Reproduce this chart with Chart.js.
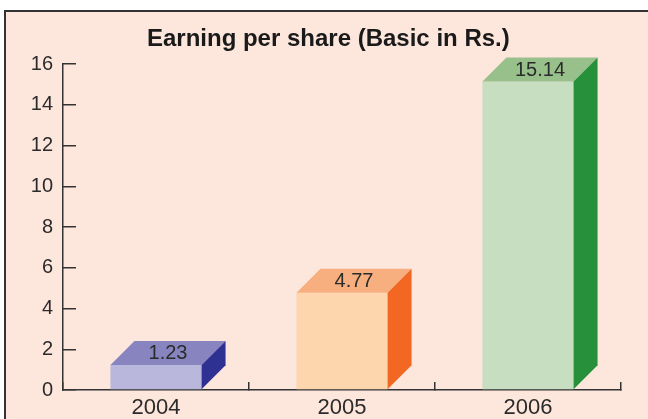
<!DOCTYPE html>
<html>
<head>
<meta charset="utf-8">
<script src="https://cdn.jsdelivr.net/npm/chart.js@4/dist/chart.umd.min.js"></script>
<style>
  body { margin: 0; background: #fff; width: 648px; height: 419px; overflow: hidden; position: relative; }
  #frame { position: absolute; left: 4px; top: 10px; width: 700px; height: 500px;
           border: 2px solid #333; background: #FDE6DC; }
  #epsChart { position: absolute; left: 0; top: 0; }
</style>
</head>
<body>
<div id="frame"></div>
<canvas id="epsChart" width="648" height="419"></canvas>
<script>
// ---------- DATA ----------
const years = ["2004", "2005", "2006"];
const eps = [1.23, 4.77, 15.14];
const yTicks = [0, 2, 4, 6, 8, 10, 12, 14, 16];

// face colours: front / top / side
const frontColors = ["#B9B7DC", "#FDD6AE", "#C7DEC0"];
const topColors = ["#8884C0", "#F8AF7F", "#97C08A"];
const sideColors = ["#2E3192", "#F26722", "#26913A"];

const DEPTH = 24;

// draws the top and side faces plus the value on the top face
const cube3d = {
  id: "cube3d",
  afterDatasetsDraw(chart) {
    const ctx = chart.ctx;
    const meta = chart.getDatasetMeta(0);
    ctx.save();
    meta.data.forEach((bar, i) => {
      const { x, y, base, width } = bar.getProps(["x", "y", "base", "width"], true);
      const l = x - width / 2, r = x + width / 2;

      ctx.fillStyle = topColors[i];
      ctx.beginPath();
      ctx.moveTo(l, y);
      ctx.lineTo(r, y);
      ctx.lineTo(r + DEPTH, y - DEPTH);
      ctx.lineTo(l + DEPTH, y - DEPTH);
      ctx.closePath();
      ctx.fill();

      ctx.fillStyle = sideColors[i];
      ctx.beginPath();
      ctx.moveTo(r, y);
      ctx.lineTo(r + DEPTH, y - DEPTH);
      ctx.lineTo(r + DEPTH, base - DEPTH);
      ctx.lineTo(r, base);
      ctx.closePath();
      ctx.fill();

      ctx.fillStyle = "#2b2b2b";
      ctx.font = "20px 'Liberation Sans', Arial, sans-serif";
      ctx.textAlign = "center";
      ctx.textBaseline = "middle";
      ctx.fillText(eps[i].toFixed(2), x + DEPTH / 2, y - DEPTH / 2 + 1);
    });
    ctx.restore();
  }
};

new Chart(document.getElementById("epsChart"), {
  type: "bar",
  data: {
    labels: years,
    datasets: [{
      data: eps,
      backgroundColor: frontColors,
      barPercentage: 1,
      categoryPercentage: 0.49
    }]
  },
  options: {
    responsive: false,
    animation: false,
    layout: { padding: { left: 29, right: 27, top: 0, bottom: 0 } },
    plugins: {
      legend: { display: false },
      tooltip: { enabled: false },
      title: {
        display: true,
        text: " Earning per share (Basic in Rs.)",
        color: "#1a1a1a",
        font: { family: "'Liberation Sans', sans-serif", size: 24, weight: "bold" },
        padding: { top: 25, bottom: 10.2 }
      }
    },
    scales: {
      x: {
        afterFit: (s) => { s.height = 29; },
        grid: { offset: true, drawOnChartArea: false, tickLength: -8, color: "#333", lineWidth: 1.5 },
        border: { color: "#333", width: 1.5 },
        ticks: { color: "#2b2b2b", padding: 13, font: { family: "'Liberation Sans', sans-serif", size: 22 } }
      },
      y: {
        min: 0,
        max: 16,
        afterFit: (s) => { s.width = 34; },
        afterBuildTicks: (s) => { s.ticks = yTicks.map(v => ({ value: v })); },
        grid: { drawOnChartArea: false, tickLength: -13, color: "#333", lineWidth: 1.5 },
        border: { color: "#333", width: 1.5 },
        ticks: { color: "#2b2b2b", padding: 23, font: { family: "'Liberation Sans', sans-serif", size: 20, lineHeight: 0.5 } }
      }
    }
  },
  plugins: [cube3d]
});
</script>
</body>
</html>
